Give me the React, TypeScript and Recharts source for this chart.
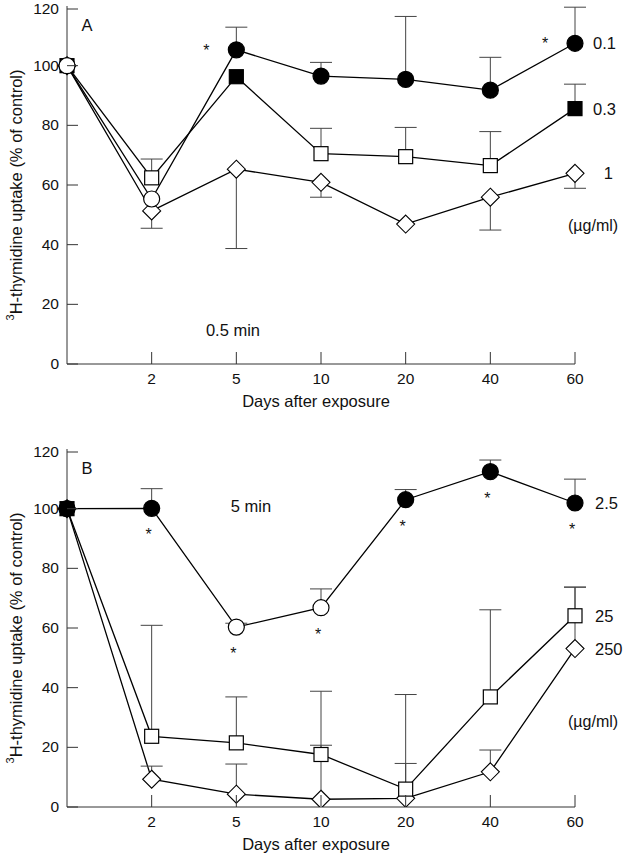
import React from 'react';
import { LineChart, Line, XAxis, YAxis, ErrorBar, LabelList, Label } from 'recharts';

const FONT = '"Liberation Sans", Arial, Helvetica, sans-serif';

const DAYS = ['0', '2', '5', '10', '20', '40', '60'];
const Y_TICKS = [0, 20, 40, 60, 80, 100, 120];

// Panel A - 0.5 min exposure (µg/ml)
const A_01 = [100, 55.3, 105.3, 96.5, 95.4, 91.8, 107.5];
const A_01_ERR = [0, 0, 7.6, 4.6, 21.1, 11, 12.1];
const A_01_FILLED = [0, 0, 1, 1, 1, 1, 1];
const A_01_STAR = [0, 0, 1, 0, 0, 0, 1];

const A_03 = [100, 62.4, 96.3, 70.5, 69.5, 66.5, 85.6];
const A_03_ERR = [0, 6.3, 0, 8.5, 9.8, 11.4, 8.2];
const A_03_FILLED = [1, 0, 1, 0, 0, 0, 1];

const A_1 = [100, 51.3, 65.3, 60.9, 46.9, 55.9, 63.9];
const A_1_ERR = [0, -5.8, -26.6, -5.0, 0, -11, -5.0];
const A_1_FILLED = [0, 0, 0, 0, 0, 0, 0];

// Panel B - 5 min exposure (µg/ml)
const B_25 = [100, 100.1, 60.3, 66.8, 103, 112.4, 101.9];
const B_25_ERR = [0, 6.6, 1.3, 6.3, 3.4, 3.9, 8.0];
const B_25_FILLED = [1, 1, 0, 0, 1, 1, 1];
const B_25_STAR = [0, 1, 1, 1, 1, 1, 1];

const B_250 = [100, 9.3, 4.3, 2.6, 2.9, 11.8, 53.1];
const B_250_ERR = [0, 4.4, 10.1, 18.1, 11.7, 7.3, 20.6];
const B_250_FILLED = [0, 0, 0, 0, 0, 0, 0];

const B_25B = [100, 23.7, 21.5, 17.6, 6.0, 36.9, 64.1];
const B_25B_ERR = [0, 37.2, 15.4, 21.2, 31.7, 29.2, 9.6];
const B_25B_FILLED = [1, 0, 0, 0, 0, 0, 0];

type Shape = 'circle' | 'square' | 'diamond';
type Series = {
  key: string;
  name: string;
  shape: Shape;
  values: number[];
  err: number[];
  filled: number[];
  star?: number[];
  labelDx: number;
  labelAnchor: 'start' | 'end';
};

// drawn in this order, last one on top
const SERIES_A: Series[] = [
  { key: 'c1', name: '1', shape: 'diamond', values: A_1, err: A_1_ERR, filled: A_1_FILLED, labelDx: 38, labelAnchor: 'end' },
  { key: 'c03', name: '0.3', shape: 'square', values: A_03, err: A_03_ERR, filled: A_03_FILLED, labelDx: 41, labelAnchor: 'end' },
  { key: 'c01', name: '0.1', shape: 'circle', values: A_01, err: A_01_ERR, filled: A_01_FILLED, star: A_01_STAR, labelDx: 41, labelAnchor: 'end' },
];

const SERIES_B: Series[] = [
  { key: 'c250', name: '250', shape: 'diamond', values: B_250, err: B_250_ERR, filled: B_250_FILLED, labelDx: 20, labelAnchor: 'start' },
  { key: 'c2_5', name: '2.5', shape: 'circle', values: B_25, err: B_25_ERR, filled: B_25_FILLED, star: B_25_STAR, labelDx: 20, labelAnchor: 'start' },
  { key: 'c25', name: '25', shape: 'square', values: B_25B, err: B_25B_ERR, filled: B_25B_FILLED, labelDx: 20, labelAnchor: 'start' },
];

const Marker = ({ cx, cy, shape, filled }: { cx: number; cy: number; shape: Shape; filled: boolean }) => {
  const fill = filled ? '#000' : '#fff';
  if (cx == null || cy == null) return <g />;
  if (shape === 'circle') return <circle cx={cx} cy={cy} r={8} fill={fill} stroke="#000" strokeWidth={1.2} />;
  if (shape === 'square')
    return <rect x={cx - 7} y={cy - 7} width={14} height={14} fill={fill} stroke="#000" strokeWidth={1.2} />;
  const d = 9;
  return (
    <polygon
      points={`${cx},${cy - d} ${cx + d},${cy} ${cx},${cy + d} ${cx - d},${cy}`}
      fill={fill}
      stroke="#000"
      strokeWidth={1.1}
    />
  );
};

const XTick = ({ x, y, payload }: any) => {
  if (payload.value === '0') return <g />;
  return (
    <g>
      <line x1={x} x2={x} y1={y} y2={y - 12} stroke="#333" />
      <text x={x} y={y + 20} textAnchor="middle" fontSize={15.5} fontFamily={FONT} fill="#111">
        {payload.value}
      </text>
    </g>
  );
};

const YTick = ({ x, y, payload }: any) => (
  <g>
    <line x1={x} x2={x + 11} y1={y} y2={y} stroke="#333" />
    <text x={x - 8} y={y + 5} textAnchor="end" fontSize={15.5} fontFamily={FONT} fill="#111">
      {payload.value}
    </text>
  </g>
);

function Panel({ series, letter, time, timeX, timeY, letterY, unitY, starBelow }: any) {
  const rows = DAYS.map((day, i) => {
    const row: any = { day };
    series.forEach((s: Series) => {
      const e = s.err[i];
      row[s.key] = s.values[i];
      row[s.key + '_e'] = e >= 0 ? [0, e] : [-e, 0];
      row[s.key + '_tip'] = e ? s.values[i] + e : null;
    });
    return row;
  });

  return (
    <div style={{ position: 'relative', width: 623, height: 410 }}>
      <LineChart width={623} height={410} data={rows} margin={{ top: 6, right: 48, bottom: 16, left: 7 }}>
        <XAxis
          dataKey="day"
          height={30}
          tickSize={0}
          tickMargin={0}
          tickLine={false}
          interval={0}
          axisLine={{ stroke: '#333' }}
          tick={<XTick />}
        >
          <Label
            content={(p: any) => {
              const vb = p.viewBox;
              return (
                <text x={vb.x + vb.width / 2 - 5} y={vb.y + 43} textAnchor="middle" fontSize={16.5} fontFamily={FONT} fill="#111">
                  Days after exposure
                </text>
              );
            }}
          />
        </XAxis>
        <YAxis
          domain={[0, 120]}
          ticks={Y_TICKS}
          width={60}
          tickSize={0}
          tickMargin={0}
          tickLine={false}
          allowDataOverflow
          axisLine={{ stroke: '#333' }}
          tick={<YTick />}
        />
        {series.map((s: Series) => (
          <Line
            key={s.key + '_tip'}
            dataKey={s.key + '_tip'}
            stroke="none"
            isAnimationActive={false}
            activeDot={false}
            legendType="none"
            dot={(p: any) =>
              p.value == null || p.cy == null ? (
                <g key={p.key} />
              ) : (
                <line key={p.key} x1={p.cx - 11} x2={p.cx + 11} y1={p.cy} y2={p.cy} stroke="#444" strokeWidth={1} />
              )
            }
          />
        ))}
        {series.map((s: Series) => (
          <Line
            key={s.key}
            dataKey={s.key}
            stroke="#000"
            strokeWidth={1.3}
            isAnimationActive={false}
            activeDot={false}
            dot={(p: any) => (
              <Marker key={p.key} cx={p.cx} cy={p.cy} shape={s.shape} filled={!!s.filled[p.index]} />
            )}
          >
            <ErrorBar dataKey={s.key + '_e'} width={0} stroke="#444" strokeWidth={1} direction="y" />
            <LabelList
              dataKey={s.key}
              content={(p: any) => {
                const i = p.index;
                const parts = [];
                if (s.star && s.star[i]) {
                  parts.push(
                    <text
                      key="star"
                      x={starBelow ? p.x - 3 : p.x - 30}
                      y={starBelow ? p.y + 32 : p.y + 6}
                      textAnchor="middle"
                      fontSize={16}
                      fontFamily={FONT}
                      fill="#111"
                    >
                      *
                    </text>
                  );
                }
                if (i === DAYS.length - 1) {
                  parts.push(
                    <text
                      key="name"
                      x={p.x + s.labelDx}
                      y={p.y + 6}
                      textAnchor={s.labelAnchor}
                      fontSize={16.5}
                      fontFamily={FONT}
                      fill="#111"
                    >
                      {s.name}
                    </text>
                  );
                }
                return <g>{parts}</g>;
              }}
            />
          </Line>
        ))}
      </LineChart>
      <svg width={623} height={410} style={{ position: 'absolute', left: 0, top: 0, pointerEvents: 'none' }}>
        <text
          transform="rotate(-90, 16, 195)"
          x={16}
          y={195}
          textAnchor="middle"
          dominantBaseline="central"
          fontSize={16.5}
          fontFamily={FONT}
          fill="#111"
        >
          <tspan fontSize={11} dy={-6}>3</tspan>
          <tspan dy={6}>H-thymidine uptake (% of control)</tspan>
        </text>
        <text x={87} y={letterY} textAnchor="middle" fontSize={16.5} fontFamily={FONT} fill="#111">
          {letter}
        </text>
        <text x={timeX} y={timeY} textAnchor="middle" fontSize={16.5} fontFamily={FONT} fill="#111">
          {time}
        </text>
        <text x={568} y={unitY} fontSize={16} fontFamily={FONT} fill="#111">
          (µg/ml)
        </text>
      </svg>
    </div>
  );
}

export default function App() {
  return (
    <div style={{ position: 'absolute', left: 0, top: 0, width: 623, height: 853, overflow: 'hidden', background: '#fff' }}>
      <div style={{ position: 'absolute', left: 0, top: 0 }}>
        <Panel series={SERIES_A} letter="A" letterY={31} time="0.5 min" timeX={233} timeY={336} unitY={231} starBelow={false} />
      </div>
      <div style={{ position: 'absolute', left: 0, top: 443 }}>
        <Panel series={SERIES_B} letter="B" letterY={31} time="5 min" timeX={251} timeY={69} unitY={284} starBelow />
      </div>
    </div>
  );
}
